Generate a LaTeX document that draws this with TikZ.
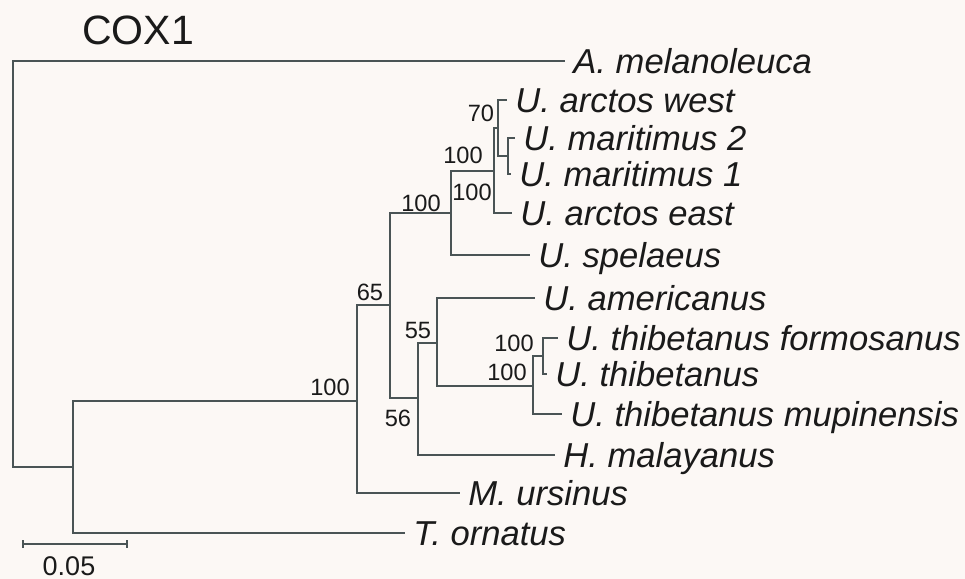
\documentclass[tikz,border=0pt]{standalone}
\usepackage{fontspec}
\setmainfont{Liberation Sans}
\usetikzlibrary{arrows.meta}
\definecolor{branchgray}{HTML}{4A5455}
\definecolor{labelblack}{HTML}{1A1A1A}
\definecolor{paper}{HTML}{FCF8F5}

\begin{document}
\begin{tikzpicture}[
        x=0.5pt, y=-0.5pt,
        branch/.style={draw=branchgray, line width=1.2pt},
        taxon/.style={
            anchor=west, inner xsep=4pt, inner ysep=0pt,
            text height=12.3pt, text depth=0pt, text=labelblack,
            font=\fontsize{17.3}{20}\selectfont\itshape
        },
        boot/.style={inner sep=0pt, text=labelblack, font=\fontsize{11.8}{14}\selectfont}
    ]
    \fill[paper] (0,0) rectangle (965,579);
    \useasboundingbox (0,0) rectangle (965,579);

    \node[inner sep=0pt, text=labelblack, font=\fontsize{20.5}{24}\selectfont] (title) at (138,30) {COX1};

    \coordinate (root) at (13,264);
    \coordinate (n1) at (73,467);
    \coordinate (n2) at (357,401);
    \coordinate (n65) at (390,305);
    \coordinate (nspe) at (451,213);
    \coordinate (narc) at (494,171);
    \coordinate (n70) at (498,128);
    \coordinate (nmar) at (508,156);
    \coordinate (n56) at (418,398);
    \coordinate (n55) at (437,343);
    \coordinate (nthib) at (533,386);
    \coordinate (nform) at (543,356);

    \node[taxon] (amel) at (565,61) {A. melanoleuca};
    \node[taxon] (uarw) at (507,100) {U. arctos west};
    \node[taxon] (umar2) at (515,138) {U. maritimus 2};
    \node[taxon] (umar1) at (511,174) {U. maritimus 1};
    \node[taxon] (uare) at (512,213) {U. arctos east};
    \node[taxon] (uspe) at (530,255) {U. spelaeus};
    \node[taxon] (uame) at (535,298) {U. americanus};
    \node[taxon] (uthf) at (558,338) {U. thibetanus formosanus};
    \node[taxon] (uth) at (547,374) {U. thibetanus};
    \node[taxon] (uthm) at (562,414) {U. thibetanus mupinensis};
    \node[taxon] (hmal) at (555,455) {H. malayanus};
    \node[taxon] (murs) at (460,493) {M. ursinus};
    \node[taxon] (torn) at (405,533) {T. ornatus};

    \path[branch]
        (root) |- (amel.west)  (root) |- (n1)
        (n1) |- (n2)           (n1) |- (torn.west)
        (n2) |- (n65)          (n2) |- (murs.west)
        (n65) |- (nspe)        (n65) |- (n56)
        (nspe) |- (narc)       (nspe) |- (uspe.west)
        (narc) |- (n70)        (narc) |- (uare.west)
        (n70) |- (uarw.west)   (n70) |- (nmar)
        (nmar) |- (umar2.west) (nmar) |- (umar1.west)
        (n56) |- (n55)         (n56) |- (hmal.west)
        (n55) |- (uame.west)   (n55) |- (nthib)
        (nthib) |- (nform)     (nthib) |- (uthm.west)
        (nform) |- (uthf.west) (nform) |- (uth.west);

    \node[boot] (bs70) at (481,113) {70};
    \node[boot] (bsmar) at (463,155) {100};
    \node[boot] (bsarc) at (472,192) {100};
    \node[boot] (bsspe) at (421,203) {100};
    \node[boot] (bs65) at (370,292) {65};
    \node[boot] (bs55) at (418,330) {55};
    \node[boot] (bsform) at (514,343) {100};
    \node[boot] (bsthib) at (507,372) {100};
    \node[boot] (bs56) at (398,418) {56};
    \node[boot] (bsurs) at (330,387) {100};

    \coordinate (sbl) at (22,544);
    \coordinate (sbr) at (128,544);
    \draw[branch, {Bar[width=4pt]}-{Bar[width=4pt]}] (sbl) -- (sbr);
    \node[boot, font=\fontsize{13.5}{16}\selectfont] (sblab) at (69,566) {0.05};
\end{tikzpicture}
\end{document}
